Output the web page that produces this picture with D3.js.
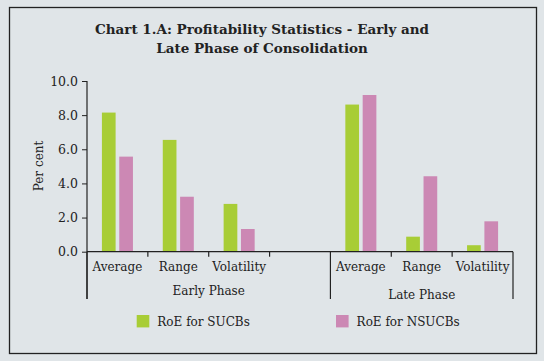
<!DOCTYPE html>
<html>
<head>
<meta charset="utf-8">
<script src="https://cdn.jsdelivr.net/npm/d3@7"></script>
<style>
  html, body { margin: 0; padding: 0; background: #e0e5e8; }
  svg { display: block; }
  text { font-family: "DejaVu Serif", serif; fill: #222; }
</style>
</head>
<body>
<div id="chart"></div>
<script>
// chart data
var categories = ["Average", "Range", "Volatility", "", "Average", "Range", "Volatility"];
var groups = ["Early Phase", "Late Phase"];
var groupSpans = [[0, 3], [4, 6]];
var seriesNames = ["RoE for SUCBs", "RoE for NSUCBs"];
var sucbs = [8.15, 6.55, 2.8, null, 8.62, 0.88, 0.38];
var nsucbs = [5.57, 3.22, 1.33, null, 9.18, 4.42, 1.78];
var yTicks = [0, 2, 4, 6, 8, 10];
var colors = ["#a8cd36", "#cc88b4"];

var W = 544, H = 361;
var svg = d3.select("#chart").append("svg").attr("width", W).attr("height", H);

svg.append("rect")
  .attr("x", 9.5).attr("y", 7.5).attr("width", 527).attr("height", 346)
  .attr("fill", "none").attr("stroke", "#222").attr("stroke-width", 1.3);

// title
var title = svg.append("text")
  .attr("text-anchor", "middle")
  .style("font-weight", "bold").style("font-size", "13.5px");
title.append("tspan").attr("x", 262).attr("y", 34).text("Chart 1.A: Profitability Statistics - Early and");
title.append("tspan").attr("x", 262).attr("y", 53).text("Late Phase of Consolidation");

var x0 = d3.scaleBand().domain(d3.range(categories.length)).range([87, 513]).padding(0);
var x1 = d3.scaleBand().domain([0, 1]).range([0, x0.bandwidth()])
  .paddingInner(0.21).paddingOuter(0.86);
var y = d3.scaleLinear().domain([0, 10]).range([251.7, 81]);

// y axis
var yAxis = svg.append("g").attr("transform", "translate(87,0)")
  .call(d3.axisLeft(y).tickValues(yTicks).tickFormat(d3.format(".1f")).tickSize(5).tickPadding(4));
yAxis.select(".domain").remove();
yAxis.selectAll("line").attr("stroke", "#222");
yAxis.selectAll("text").style("font-family", "DejaVu Serif, serif").style("font-size", "12.5px").attr("fill", "#222");

svg.append("text")
  .attr("transform", "translate(39,166) rotate(-90)")
  .attr("text-anchor", "middle").attr("dominant-baseline", "central")
  .style("font-size", "12px").text("Per cent");

// bars
var series = [sucbs, nsucbs];
series.forEach(function (vals, si) {
  svg.append("g").selectAll("rect")
    .data(vals.map(function (v, i) { return {i: i, v: v}; }).filter(function (d) { return d.v != null; }))
    .join("rect")
    .attr("x", function (d) { return x0(d.i) + x1(si); })
    .attr("width", x1.bandwidth())
    .attr("y", function (d) { return y(d.v); })
    .attr("height", function (d) { return y(0) - y(d.v); })
    .attr("fill", colors[si]);
});

// axis lines
svg.append("line").attr("x1", 87).attr("x2", 87).attr("y1", 81).attr("y2", 299)
  .attr("stroke", "#222").attr("stroke-width", 1.2);
svg.append("line").attr("x1", 87).attr("x2", 513).attr("y1", y(0)).attr("y2", y(0))
  .attr("stroke", "#222").attr("stroke-width", 1.2);

// category ticks and labels
var bounds = d3.range(categories.length + 1).map(function (i) {
  return i < categories.length ? x0(i) : x0(categories.length - 1) + x0.bandwidth();
});
var longTicks = [0, 4, 7];
svg.append("g").selectAll("line").data(bounds).join("line")
  .attr("x1", function (d) { return d; }).attr("x2", function (d) { return d; })
  .attr("y1", y(0))
  .attr("y2", function (d, i) { return longTicks.indexOf(i) >= 0 ? 299 : y(0) + 5; })
  .attr("stroke", "#222").attr("stroke-width", 1.2);

svg.append("g").selectAll("text").data(categories).join("text")
  .attr("x", function (d, i) { return x0(i) + x0.bandwidth() / 2; })
  .attr("y", 270.5).attr("text-anchor", "middle")
  .style("font-size", "12px").text(function (d) { return d; });

var groupY = [294.5, 298.5];
svg.append("g").selectAll("text").data(groups).join("text")
  .attr("x", function (d, i) { return (bounds[groupSpans[i][0]] + bounds[groupSpans[i][1] + 1]) / 2; })
  .attr("y", function (d, i) { return groupY[i]; })
  .attr("text-anchor", "middle").style("font-size", "12px")
  .text(function (d) { return d; });

// legend
var legendX = [136.7, 336];
var lg = svg.append("g").selectAll("g").data(seriesNames).join("g")
  .attr("transform", function (d, i) { return "translate(" + legendX[i] + ",315)"; });
lg.append("rect").attr("width", 12.6).attr("height", 12.4)
  .attr("fill", function (d, i) { return colors[i]; });
lg.append("text").attr("x", 20.6).attr("y", 11)
  .style("font-size", "12px").text(function (d) { return d; });
</script>
</body>
</html>
